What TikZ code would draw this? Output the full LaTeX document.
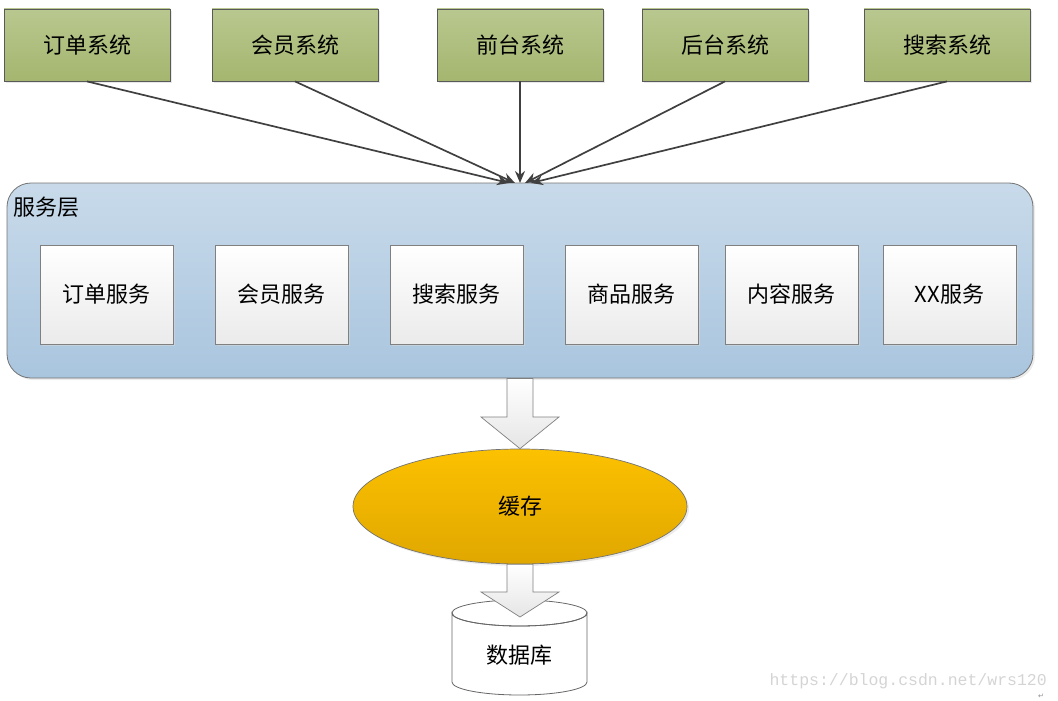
\documentclass[tikz,border=0pt]{standalone}
\usepackage{fontspec}
\setmainfont{Noto Sans CJK SC}
\newfontfamily\wmfont{Liberation Mono}
\newfontfamily\dvfont{DejaVu Sans}
\usetikzlibrary{arrows.meta,shapes.geometric,shadows,calc}
\definecolor{olivetop}{HTML}{B9C88F}
\definecolor{olivebot}{HTML}{A4B66F}
\definecolor{bluetop}{HTML}{C8DAEA}
\definecolor{bluebot}{HTML}{A9C5DE}
\definecolor{goldtop}{HTML}{FCC100}
\definecolor{goldbot}{HTML}{E0A700}
\definecolor{linegray}{HTML}{404040}
\begin{document}
\begin{tikzpicture}[x=1pt,y=-1pt,
  cjk/.style={font=\fontsize{22}{22}\selectfont},
  sysbox/.style={cjk, draw=black!65, line width=0.8pt, top color=olivetop, bottom color=olivebot,
    minimum width=166pt, minimum height=72pt, inner sep=0pt,
    drop shadow={shadow xshift=2pt, shadow yshift=-2pt, fill=black!18}},
  svcbox/.style={cjk, draw=black!50, line width=0.8pt, top color=white, bottom color=black!8,
    minimum width=133pt, minimum height=99pt, inner sep=0pt,
    drop shadow={shadow xshift=1.5pt, shadow yshift=-1.5pt, fill=black!15}},
  conn/.style={draw=linegray, line width=1.7pt, -{Stealth[length=12pt,width=10pt]}},
  blockarrow/.style={draw=black!50, line width=0.7pt, top color=white, bottom color=black!10},
]
\useasboundingbox (0,0) rectangle (1058,701);

% top systems
\node[sysbox] (s1) at (87,45)  {订单系统};
\node[sysbox] (s2) at (295,45) {会员系统};
\node[sysbox] (s3) at (520,45) {前台系统};
\node[sysbox] (s4) at (725,45) {后台系统};
\node[sysbox] (s5) at (947,45) {搜索系统};

% service layer
\node[draw=black!55, line width=0.8pt, rounded corners=24pt, top color=bluetop, bottom color=bluebot,
  minimum width=1026pt, minimum height=195pt, inner sep=0pt,
  drop shadow={shadow xshift=2pt, shadow yshift=-2pt, fill=black!15}] (layer) at (520,280.5) {};
\node[cjk, anchor=west, inner sep=0pt] (layerlabel) at (13,207) {服务层};

\node[svcbox] (v1) at (106.5,294.5) {订单服务};
\node[svcbox] (v2) at (281.5,294.5) {会员服务};
\node[svcbox] (v3) at (456.5,294.5) {搜索服务};
\node[svcbox] (v4) at (631.5,294.5) {商品服务};
\node[svcbox] (v5) at (791.5,294.5) {内容服务};
\node[svcbox] (v6) at (949.5,294.5) {XX服务};

% connectors
\coordinate (t1) at (509,183);
\coordinate (t2) at (515,183);
\coordinate (t3) at (520,183);
\coordinate (t4) at (525,183);
\coordinate (t5) at (531,183);
\draw[conn] (s1.south) -- (t1);
\draw[conn] (s2.south) -- (t2);
\draw[conn] (s3.south) -- (t3);
\draw[conn] (s4.south) -- (t4);
\draw[conn] (s5.south) -- (t5);

% cache
\node[cjk, ellipse, draw=black!55, line width=0.7pt, top color=goldtop, bottom color=goldbot,
  minimum width=334pt, minimum height=115pt, inner sep=0pt,
  drop shadow={shadow xshift=2pt, shadow yshift=-2pt, fill=black!15}] (cache) at (520,506.5) {缓存};

% block arrow layer -> cache
\path[blockarrow] ($(layer.south)+(-13,0)$) -- ($(layer.south)+(13,0)$) -- (533,417) -- (559,417)
  -- (cache.north) -- (481,417) -- (507,417) -- cycle;

% database cylinder
\coordinate (dbtop) at (519.5,613);
\path[fill=white, draw=black!60, line width=0.8pt] (452,613) -- (452,682)
  arc[start angle=180, end angle=0, x radius=67.5, y radius=13] -- (587,613)
  arc[start angle=0, end angle=180, x radius=67.5, y radius=13] -- cycle;
\draw[black!60, line width=0.8pt] (dbtop) ellipse[x radius=67.5, y radius=13];
\node[cjk] (db) at (519.5,655) {数据库};

% block arrow cache -> db
\path[blockarrow] ($(cache.south)+(-13,0)$) -- ($(cache.south)+(13,0)$) -- (533,592) -- (559,592)
  -- (520,617) -- (481,592) -- (507,592) -- cycle;

% watermark
\node[anchor=east, inner sep=0pt, text=black!17, font=\wmfont\fontsize{16.5}{16.5}\selectfont] (wm) at (1047,681) {https://blog.csdn.net/wrs120};
\node[inner sep=0pt, text=black!45, font=\dvfont\fontsize{7}{7}\selectfont] (ret) at (1041,696) {↵};
\end{tikzpicture}
\end{document}
